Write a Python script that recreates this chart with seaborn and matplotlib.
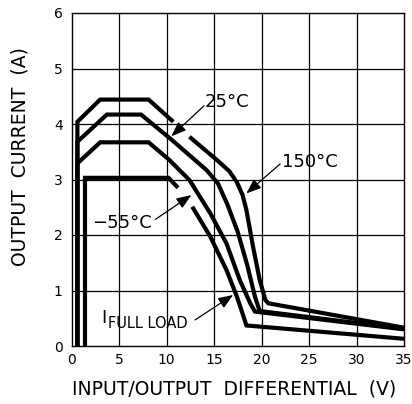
import numpy as np
import pandas as pd
import matplotlib
matplotlib.use("Agg")
import matplotlib.pyplot as plt
import seaborn as sns

# =========================
# DATA
# =========================
# 150°C (outer curve), broken where the 25°C arrow passes
x_150 = [0.6, 0.6, 3.0, 8.1, 10.7, np.nan, 12.4, 15.3, 16.6, 17.4, 18.0, 18.4, 19.1, 19.8, 20.4, 20.7, 35.0]
y_150 = [0.0, 4.04, 4.44, 4.44, 4.04, np.nan, 3.77, 3.35, 3.15, 2.95, 2.72, 2.45, 1.79, 1.19, 0.83, 0.77, 0.33]

# 25°C
x_25 = [0.6, 0.6, 3.7, 7.3, 10.5, 14.2, 15.4, 16.4, 17.5, 18.5, 19.3, 19.8, 35.0]
y_25 = [0.0, 3.68, 4.17, 4.17, 3.72, 3.17, 2.93, 2.55, 2.05, 1.45, 0.89, 0.63, 0.31]

# -55°C
x_m55 = [0.6, 0.6, 3.0, 8.1, 10.3, 12.4, 14.6, 16.3, 17.7, 18.8, 19.3, 35.0]
y_m55 = [0.0, 3.29, 3.67, 3.67, 3.35, 2.99, 2.39, 1.85, 1.19, 0.77, 0.62, 0.30]

# I full load, broken where the -55°C arrow passes
x_fl = [1.4, 1.4, 10.2, 11.2, np.nan, 12.7, 14.6, 16.3, 17.4, 18.1, 18.4, 35.0]
y_fl = [0.0, 3.03, 3.03, 2.85, np.nan, 2.51, 1.97, 1.37, 0.89, 0.53, 0.37, 0.13]

x_ticks = [0, 5, 10, 15, 20, 25, 30, 35]
y_ticks = [0, 1, 2, 3, 4, 5, 6]

# long table, one "seg" per unbroken piece of line
rows = []
for name, xs, ys in [("150", x_150, y_150), ("25", x_25, y_25),
                     ("-55", x_m55, y_m55), ("fl", x_fl, y_fl)]:
    seg = 0
    for i, (xv, yv) in enumerate(zip(xs, ys)):
        if np.isnan(xv):
            seg += 1
            continue
        rows.append({"curve": name, "seg": f"{name}_{seg}", "order": i, "x": xv, "y": yv})
df = pd.DataFrame(rows)

# =========================
# PLOT
# =========================
sns.set_style("white")
plt.rcParams["font.family"] = ["DejaVu Sans"]
plt.rcParams["text.color"] = "black"
plt.rcParams["xtick.color"] = "black"
plt.rcParams["ytick.color"] = "black"

fig = plt.figure(figsize=(4.12, 4.04), dpi=100)
ax = fig.add_axes([71.7 / 412, 1 - 346 / 404, (404 - 71.7) / 412, (346 - 13) / 404])

for x in x_ticks[1:-1]:
    ax.axvline(x, color="black", lw=0.9, zorder=1)
for y in y_ticks[1:-1]:
    ax.axhline(y, color="black", lw=0.9, zorder=1)

sns.lineplot(data=df, x="x", y="y", units="seg", estimator=None, sort=False,
             color="black", lw=3.0, ax=ax, zorder=3, legend=False)
for ln in ax.lines[-4:]:
    pass
for ln in ax.get_lines():
    if ln.get_linewidth() > 2:
        ln.set_solid_joinstyle("miter")
        ln.set_solid_capstyle("butt")

ax.set_xlim(0, 35)
ax.set_ylim(0, 6)
ax.set_xticks(x_ticks)
ax.set_yticks(y_ticks)
ax.tick_params(length=0, labelsize=10, labelcolor="black")
ax.tick_params(axis="y", pad=6.5)
ax.tick_params(axis="x", pad=5)
ax.set_xlabel("")
ax.set_ylabel("")
for s in ax.spines.values():
    s.set_color("black")
    s.set_linewidth(1.0)

fig.text(20 / 412, 1 - 157 / 404, "OUTPUT  CURRENT  (A)", rotation=90,
         ha="center", va="center", fontsize=13.5, color="black")
fig.text(234 / 412, 1 - 389 / 404, "INPUT/OUTPUT  DIFFERENTIAL  (V)",
         ha="center", va="center", fontsize=13.5, color="black")

arrow = dict(arrowstyle="-|>,head_length=0.9,head_width=0.35", color="black",
             lw=0.9, shrinkA=0, shrinkB=0, mutation_scale=10)

ax.text(14.0, 4.39, "25°C", fontsize=13, ha="left", va="center", zorder=5)
ax.annotate("", xy=(10.5, 3.78), xytext=(13.95, 4.33), arrowprops=arrow, zorder=5)

ax.text(22.1, 3.32, "150°C", fontsize=13, ha="left", va="center", zorder=5)
ax.annotate("", xy=(18.4, 2.75), xytext=(21.95, 3.28), arrowprops=arrow, zorder=5)

ax.text(2.1, 2.22, "−55°C", fontsize=13, ha="left", va="center", zorder=5)
ax.annotate("", xy=(12.6, 2.72), xytext=(8.8, 2.28), arrowprops=arrow, zorder=5)

ax.text(3.15, 0.51, "I", fontsize=13, ha="left", va="center", zorder=5)
ax.text(3.85, 0.41, "FULL LOAD", fontsize=10.5, ha="left", va="center", zorder=5)
ax.annotate("", xy=(17.0, 0.92), xytext=(13.0, 0.47), arrowprops=arrow, zorder=5)

plt.savefig("out.png", dpi=100)
plt.close()
